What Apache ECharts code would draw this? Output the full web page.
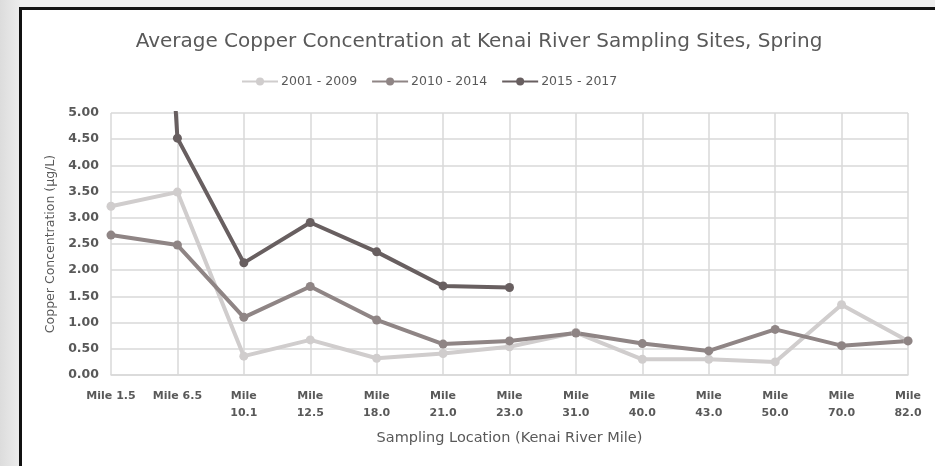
<!DOCTYPE html>
<html>
<head>
<meta charset="utf-8">
<script src="https://cdn.jsdelivr.net/npm/echarts@6/dist/echarts.min.js"></script>
<style>
html,body{margin:0;padding:0;}
body{width:935px;height:466px;overflow:hidden;background:linear-gradient(90deg,#dcdcdc 0px,#ededed 20px,#ededed 100%);position:relative;}
#frame{position:absolute;left:19px;top:7px;width:940px;height:470px;border-left:3px solid #111;border-top:3px solid #111;background:#fff;}
#chart{position:absolute;left:0;top:0;width:935px;height:466px;}
</style>
</head>
<body>
<div id="frame"></div>
<div id="chart"></div>
<script>
const categories = ['Mile 1.5','Mile 6.5','Mile\n10.1','Mile\n12.5','Mile\n18.0','Mile\n21.0','Mile\n23.0','Mile\n31.0','Mile\n40.0','Mile\n43.0','Mile\n50.0','Mile\n70.0','Mile\n82.0'];
const s2001_2009 = [3.22, 3.49, 0.36, 0.67, 0.32, 0.41, 0.54, 0.81, 0.30, 0.30, 0.25, 1.34, 0.65];
const s2010_2014 = [2.67, 2.48, 1.10, 1.69, 1.05, 0.59, 0.65, 0.80, 0.60, 0.46, 0.87, 0.56, 0.65];
const s2015_2017 = [25.0, 4.52, 2.14, 2.91, 2.35, 1.70, 1.67, null, null, null, null, null, null];
const seriesNames = ['2001 - 2009', '2010 - 2014', '2015 - 2017'];
const colors = ['#d0cdcd', '#8f8585', '#685f60'];
const FONT = 'DejaVu Sans';
const TXT = '#595959';

const chart = echarts.init(document.getElementById('chart'), null, {renderer: 'canvas'});
const mk = (name, data, c) => ({
  name, type: 'line', data, clip: true,
  symbol: 'circle', symbolSize: 9,
  lineStyle: {width: 4, color: c},
  itemStyle: {color: c},
  emphasis: {disabled: true},
  connectNulls: false
});
chart.setOption({
  animation: false,
  backgroundColor: 'transparent',
  title: {
    text: 'Average Copper Concentration at Kenai River Sampling Sites, Spring',
    left: 474, top: 27, textAlign: 'center',
    textStyle: {fontFamily: FONT, fontSize: 20, fontWeight: 'normal', color: TXT}
  },
  legend: {
    top: 70, left: 236,
    itemWidth: 36, itemHeight: 10, itemGap: 14,
    textStyle: {fontFamily: FONT, fontSize: 12.5, color: TXT, padding: [0, 0, 0, -2]},
    data: seriesNames
  },
  grid: {left: 111, right: 27, top: 113, bottom: 91},
  xAxis: {
    type: 'category', data: categories, boundaryGap: false,
    name: 'Sampling Location (Kenai River Mile)', nameLocation: 'middle', nameGap: 56,
    nameTextStyle: {fontFamily: FONT, fontSize: 14.5, color: TXT},
    axisLine: {lineStyle: {color: '#d9d9d9', width: 1.5}},
    axisTick: {show: false},
    axisLabel: {fontFamily: FONT, fontSize: 11, fontWeight: 'bold', color: TXT, margin: 13, lineHeight: 17, interval: 0},
    splitLine: {show: true, lineStyle: {color: '#d9d9d9', width: 1.5}}
  },
  yAxis: {
    type: 'value', min: 0, max: 5, interval: 0.5,
    name: 'Copper Concentration (µg/L)', nameLocation: 'middle', nameGap: 54,
    nameTextStyle: {fontFamily: FONT, fontSize: 12.5, color: TXT},
    axisLine: {show: false}, axisTick: {show: false},
    axisLabel: {fontFamily: FONT, fontSize: 12.5, fontWeight: 'bold', color: TXT, margin: 12, formatter: v => v.toFixed(2)},
    splitLine: {lineStyle: {color: '#d9d9d9', width: 1.5}}
  },
  series: [
    mk(seriesNames[0], s2001_2009, colors[0]),
    mk(seriesNames[1], s2010_2014, colors[1]),
    mk(seriesNames[2], s2015_2017, colors[2])
  ]
});
</script>
</body>
</html>
